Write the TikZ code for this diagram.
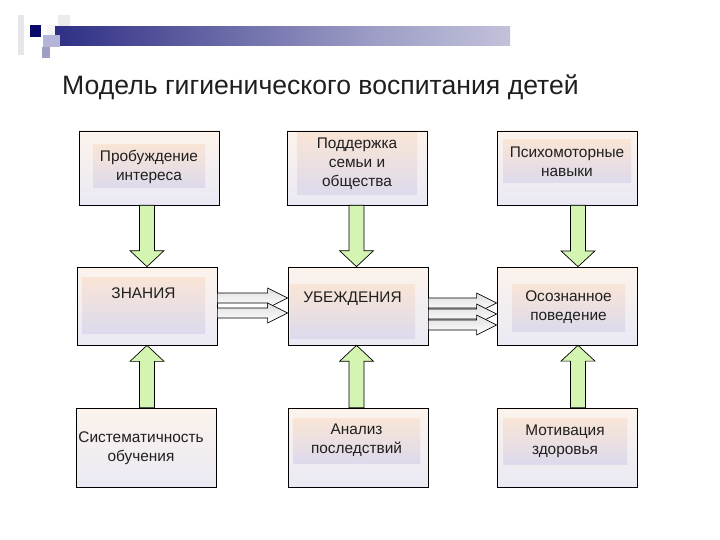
\documentclass[tikz,border=0pt]{standalone}
\usepackage{fontspec}
\setmainfont{Liberation Sans}
\usetikzlibrary{calc}

\definecolor{navybar}{RGB}{10,10,112}
\definecolor{boxtop}{RGB}{252,243,236}
\definecolor{boxbot}{RGB}{234,233,244}
\definecolor{intop}{RGB}{249,229,214}
\definecolor{inbot}{RGB}{221,218,236}
\definecolor{arrowgreen}{RGB}{212,245,178}

\pgfdeclarehorizontalshading{barshade}{100bp}{color(0bp)=(navybar);
  color(25bp)=(navybar!85!white); color(60bp)=(navybar!40!white);
  color(100bp)=(white)}

\newcommand{\boxfont}{\fontsize{15.4}{19}\selectfont}

% green block arrow from #1 to the edge #2
\newcommand{\vblock}[2]{%
  \draw[garrow] let \p1=(#1), \p2=(#2), \p3=($(#2)!16pt!(#1)$) in
    (\x1-7.5pt,\y1) -- (\x1-7.5pt,\y3) -- (\x1-17pt,\y3) -- (\x1,\y2)
    -- (\x1+17pt,\y3) -- (\x1+7.5pt,\y3) -- (\x1+7.5pt,\y1) -- cycle;}
% grey block arrow to the right
\newcommand{\hblock}[2]{%
  \draw[harrow] let \p1=(#1), \p2=(#2) in
    (\x1,\y1+5pt) -- (\x2-20pt,\y1+5pt) -- (\x2-20pt,\y1+10pt) -- (\x2,\y1)
    -- (\x2-20pt,\y1-10pt) -- (\x2-20pt,\y1-5pt) -- (\x1,\y1-5pt) -- cycle;}

\begin{document}
\begin{tikzpicture}[x=1pt, y=-1pt,
  box/.style={draw, line width=0.7pt, top color=boxtop, bottom color=boxbot,
              minimum width=140pt, inner sep=0pt},
  inbox/.style={top color=intop, bottom color=inbot, inner sep=0pt,
                align=center, font=\boxfont, text=black!88},
  txt/.style={inner sep=0pt, align=center, font=\boxfont, text=black!88},
  garrow/.style={draw, line width=0.7pt, fill=arrowgreen},
  harrow/.style={draw, line width=0.6pt, top color=gray!25, bottom color=white}
]
\useasboundingbox (0,0) rectangle (720,540);

% header
\fill[blue!8!gray!18] (18,15) rectangle (24,55);
\fill[blue!6!gray!15] (58,15) rectangle (70,35);
\fill[blue!5!gray!8] (47,25) rectangle (57,35);
\shade[shading=barshade] (55,27) rectangle (510,46);
\fill[navybar!95!black] (30,25) rectangle (41,37);
\fill[blue!30!gray!45] (43,35) rectangle (60,47);
\fill[blue!25!gray!60] (42,47) rectangle (50,58);

\node[anchor=west, inner sep=0pt, font=\fontsize{26.6}{30}\selectfont,
      text=black!88] (title) at (62,87.5)
      {Модель гигиенического воспитания детей};

% frames
\node[box, minimum height=74pt] (pk) at (149.5,168) {};
\node[box, minimum height=74pt] (pd) at (357,168) {};
\node[box, minimum height=74pt] (pm) at (567,168) {};
\node[box, minimum height=78pt] (zn) at (147,306) {};
\node[box, minimum height=78pt] (ub) at (358,306) {};
\node[box, minimum height=78pt] (oc) at (567,306) {};
\node[box, minimum height=79pt] (so) at (146,447.5) {};
\node[box, minimum height=79pt] (an) at (358,447.5) {};
\node[box, minimum height=79pt] (mz) at (567,447.5) {};

% texts
\node[inbox, minimum width=112pt, minimum height=43pt] (pkt) at (149,166.5)
      {Пробуждение\\интереса};
\node[inbox, minimum width=120pt, minimum height=62pt] (pdt) at (357,164)
      {Поддержка\\семьи и\\общества};
\node[inbox, minimum width=128pt, minimum height=43pt] (pmt) at (567,161.5)
      {Психомоторные\\навыки};
\node[inbox, minimum width=123pt, text height=21.4pt, text depth=34.6pt]
      (znt) at (143.5,305) {ЗНАНИЯ};
\node[inbox, minimum width=125pt, text height=18.4pt, text depth=35.6pt]
      (ubt) at (352.5,311) {УБЕЖДЕНИЯ};
\node[inbox, minimum width=113pt, minimum height=47pt] (oct) at (568.5,307.5)
      {Осознанное\\поведение};
\node[txt] (sot) at (141,448) {Систематичность\\обучения};
\node[inbox, minimum width=127pt, minimum height=45pt] (ant) at (356.5,440.5)
      {Анализ\\последствий};
\node[inbox, minimum width=124pt, minimum height=46pt] (mzt) at (565,441)
      {Мотивация\\здоровья};

% green arrows
\coordinate (d1) at ([xshift=-2.5pt]pk.south);
\coordinate (d2) at ([xshift=-0.5pt]pd.south);
\coordinate (d3) at ([xshift=11pt]pm.south);
\coordinate (u1) at ([xshift=1pt]so.north);
\coordinate (u2) at ([xshift=-1.5pt]an.north);
\coordinate (u3) at ([xshift=11pt]mz.north);
\vblock{d1}{zn.north}
\vblock{d2}{ub.north}
\vblock{d3}{oc.north}
\vblock{u1}{zn.south}
\vblock{u2}{ub.south}
\vblock{u3}{oc.south}

% grey arrows
\coordinate (r1) at ([yshift=8pt]zn.east);
\coordinate (r2) at ([yshift=-7pt]zn.east);
\coordinate (s1) at ([yshift=3pt]ub.east);
\coordinate (s2) at ([yshift=-8pt]ub.east);
\coordinate (s3) at ([yshift=-19pt]ub.east);
\hblock{r1}{ub.west}
\hblock{r2}{ub.west}
\hblock{s1}{oc.west}
\hblock{s2}{oc.west}
\hblock{s3}{oc.west}
\end{tikzpicture}
\end{document}
